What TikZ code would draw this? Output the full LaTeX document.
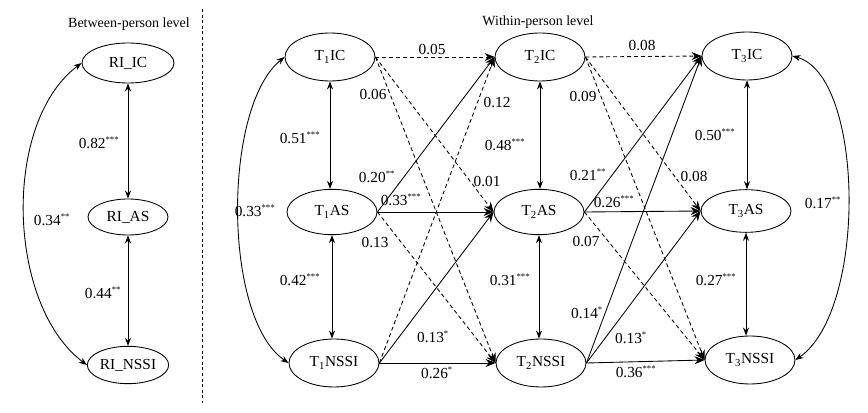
\documentclass[tikz,border=0pt]{standalone}
\usepackage{fontspec}
\setmainfont{Liberation Serif}
\usetikzlibrary{arrows.meta,shapes.geometric}
\newcommand\sgn[1]{\textsuperscript{\fontsize{6.5}{6.5}\selectfont #1}}
\begin{document}
\begin{tikzpicture}[x=0.75pt,y=-0.75pt,
  lat/.style={draw, ellipse, line width=0.65pt, minimum width=67.5pt, minimum height=36pt, inner sep=0pt, font=\fontsize{11.5}{12}\selectfont},
  pth/.style={line width=0.65pt, -{Stealth[length=7.5pt,width=6pt]}},
  dpth/.style={pth, dash pattern=on 3pt off 2.2pt},
  cov/.style={line width=0.65pt, {Stealth[length=6pt,width=4.5pt]}-{Stealth[length=6pt,width=4.5pt]}},
  lbl/.style={font=\fontsize{11.5}{12}\selectfont, inner sep=0pt},
  ttl/.style={font=\fontsize{10.5}{12}\selectfont, inner sep=0pt}]
\fill[white] (0,0) rectangle (868,413);
\useasboundingbox (0,0) rectangle (868,413);

% titles and separator
\node[ttl] (tb) at (129,24) {Between-person level};
\node[ttl] (tw) at (538,22) {Within-person level};
\coordinate (s1) at (202,9);
\coordinate (s2) at (202,403);
\draw[line width=0.6pt, dash pattern=on 2.2pt off 2pt] (s1) -- (s2);

% between-person
\node[lat, minimum width=69pt, minimum height=30pt] (RIIC) at (128,63) {RI\_IC};
\node[lat, minimum width=60pt, minimum height=27pt] (RIAS) at (128,217) {RI\_AS};
\node[lat, minimum width=61pt, minimum height=28pt] (RINSSI) at (128,365) {RI\_NSSI};
\draw[cov] (RIIC.south) -- (RIAS.north);
\draw[cov] (RIAS.south) -- (RINSSI.north);
\draw[cov] (RIIC.west) .. controls +(-80,60) and +(-80,-60) .. (RINSSI.west);
\node[lbl] (b1) at (99,143) {0.82\sgn{***}};
\node[lbl] (b2) at (103,293) {0.44\sgn{**}};
\node[lbl] (b3) at (52,220) {0.34\sgn{**}};

% within-person
\node[lat] (T1IC) at (330,57) {T\textsubscript{1}IC};
\node[lat, minimum height=34pt] (T1AS) at (332,212) {T\textsubscript{1}AS};
\node[lat] (T1NSSI) at (334,363) {T\textsubscript{1}NSSI};
\node[lat] (T2IC) at (540,57) {T\textsubscript{2}IC};
\node[lat, minimum height=34pt] (T2AS) at (539,212) {T\textsubscript{2}AS};
\node[lat] (T2NSSI) at (541,363) {T\textsubscript{2}NSSI};
\node[lat] (T3IC) at (747,56) {T\textsubscript{3}IC};
\node[lat, minimum height=32pt] (T3AS) at (746,211) {T\textsubscript{3}AS};
\node[lat] (T3NSSI) at (750,360) {T\textsubscript{3}NSSI};

% covariances
\draw[cov] (T1IC.south) -- (T1IC.south |- T1AS.north);
\draw[cov] (T1AS.south) -- (T1AS.south |- T1NSSI.north);
\draw[cov] (T2IC.south) -- (T2IC.south |- T2AS.north);
\draw[cov] (T2AS.south) -- (T2AS.south |- T2NSSI.north);
\draw[cov] (T3IC.south) -- (T3IC.south |- T3AS.north);
\draw[cov] (T3AS.south) -- (T3AS.south |- T3NSSI.north);
\draw[cov] (T1IC.west) .. controls +(-62,50) and +(-66,-45) .. (T1NSSI.west);
\draw[cov] (T3IC.east) .. controls +(72,20) and +(72,-50) .. (T3NSSI.east);

% T1 -> T2
\draw[dpth] (T1IC.east) -- (T2IC.west);
\draw[dpth] (T1IC.east) -- (T2AS.west);
\draw[dpth] (T1IC.east) -- (T2NSSI.west);
\draw[pth] (T1AS.east) -- (T2IC.west);
\draw[pth] (T1AS.east) -- (T2AS.west);
\draw[dpth] (T1AS.east) -- (T2NSSI.west);
\draw[dpth] (T1NSSI.east) -- (T2IC.west);
\draw[pth] (T1NSSI.east) -- (T2AS.west);
\draw[pth] (T1NSSI.east) -- (T2NSSI.west);

% T2 -> T3
\draw[dpth] (T2IC.east) -- (T3IC.west);
\draw[dpth] (T2IC.east) -- (T3AS.west);
\draw[dpth] (T2IC.east) -- (T3NSSI.west);
\draw[pth] (T2AS.east) -- (T3IC.west);
\draw[pth] (T2AS.east) -- (T3AS.west);
\draw[dpth] (T2AS.east) -- (T3NSSI.west);
\draw[pth] (T2NSSI.east) -- (T3IC.west);
\draw[pth] (T2NSSI.east) -- (T3AS.west);
\draw[pth] (T2NSSI.east) -- (T3NSSI.west);

% labels
\node[lbl] (w1) at (300,138) {0.51\sgn{***}};
\node[lbl] (w2) at (300,280) {0.42\sgn{***}};
\node[lbl] (w3) at (505,145) {0.48\sgn{***}};
\node[lbl] (w4) at (510,280) {0.31\sgn{***}};
\node[lbl] (w5) at (715,135) {0.50\sgn{***}};
\node[lbl] (w6) at (716,280) {0.27\sgn{***}};
\node[lbl] (w7) at (255,211) {0.33\sgn{***}};
\node[lbl] (w8) at (823,203) {0.17\sgn{**}};
\node[lbl] (a1) at (432,50) {0.05};
\node[lbl] (a2) at (373,95) {0.06};
\node[lbl] (a3) at (487,182) {0.01};
\node[lbl] (a4) at (377,177) {0.20\sgn{**}};
\node[lbl] (a5) at (401,200) {0.33\sgn{***}};
\node[lbl] (a6) at (375,243) {0.13};
\node[lbl] (a7) at (497,103) {0.12};
\node[lbl] (a8) at (433,337) {0.13\sgn{*}};
\node[lbl] (a9) at (437,373) {0.26\sgn{*}};
\node[lbl] (c1) at (642,46) {0.08};
\node[lbl] (c2) at (583,97) {0.09};
\node[lbl] (c3) at (694,177) {0.08};
\node[lbl] (c4) at (588,175) {0.21\sgn{**}};
\node[lbl] (c5) at (614,202) {0.26\sgn{***}};
\node[lbl] (c6) at (586,242) {0.07};
\node[lbl] (c7) at (587,313) {0.14\sgn{*}};
\node[lbl] (c8) at (631,338) {0.13\sgn{*}};
\node[lbl] (c9) at (636,372) {0.36\sgn{***}};
\end{tikzpicture}
\end{document}
